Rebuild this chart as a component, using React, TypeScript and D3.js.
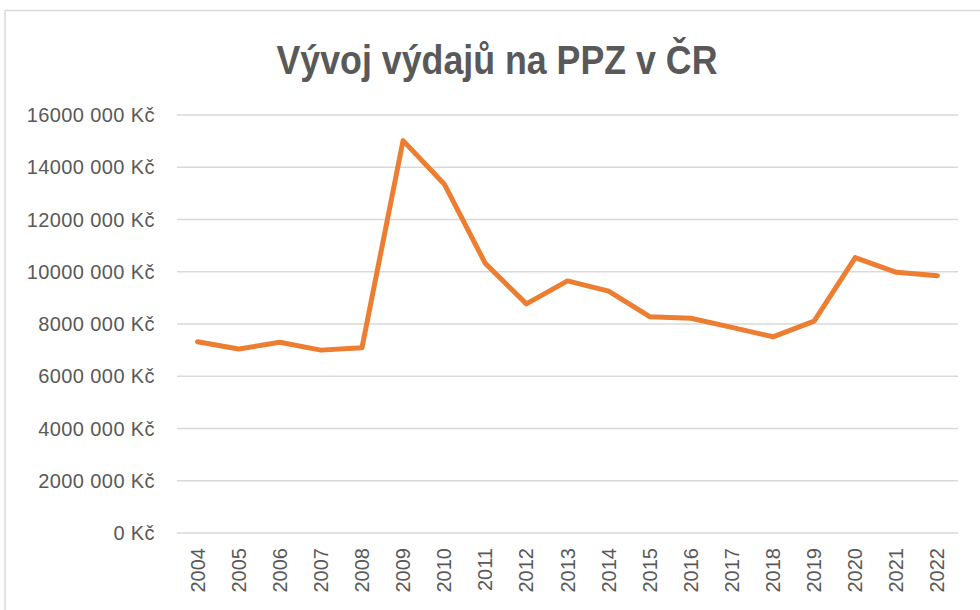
import React from 'react';
import * as d3 from 'd3';

const YEARS = ['2004', '2005', '2006', '2007', '2008', '2009', '2010', '2011', '2012', '2013',
  '2014', '2015', '2016', '2017', '2018', '2019', '2020', '2021', '2022'];
const SPENDING = [7320000, 7040000, 7300000, 7000000, 7090000, 15020000, 13360000, 10320000, 8770000,
  9650000, 9260000, 8280000, 8220000, 7870000, 7510000, 8110000, 10540000, 9980000, 9850000];
const Y_TICKS = [0, 2000000, 4000000, 6000000, 8000000, 10000000, 12000000, 14000000, 16000000];

const TITLE = 'Vývoj výdajů na PPZ v ČR';
const FONT = '"Liberation Sans", Arial, sans-serif';
const TEXT = '#595959';
const GRID = '#d9d9d9';
const ORANGE = '#ED7D31';

// Excel-ish format: "16000 000 Kč", "0 Kč"
const fmtKc = (v: number) => {
  if (v === 0) return '0 Kč';
  const th = Math.floor(v / 1000);
  const rest = String(v % 1000).padStart(3, '0');
  return `${th} ${rest} Kč`;
};

const App = () => {
  const width = 980, height = 610;
  const margin = { top: 115, right: 22, bottom: 77, left: 177 };
  const innerW = width - margin.left - margin.right;
  const innerH = height - margin.top - margin.bottom;

  const x = d3.scaleBand().domain(YEARS).range([0, innerW]).padding(0);
  const y = d3.scaleLinear().domain([0, 16000000]).range([innerH, 0]);

  const line = d3.line<number>()
    .x((_, i) => (x(YEARS[i]) as number) + x.bandwidth() / 2)
    .y(d => y(d));

  return (
    <svg width={width} height={height} style={{ position: 'absolute', left: 0, top: 0, background: '#fff' }}>
      <rect x={5} y={10.5} width={990} height={620} fill="#fff" stroke={GRID} strokeWidth={1.5} />
      <text x={497} y={74} textAnchor="middle" fill={TEXT} fontFamily={FONT} fontWeight="bold"
        fontSize={40} textLength={441} lengthAdjust="spacingAndGlyphs">{TITLE}</text>
      <g transform={`translate(${margin.left},${margin.top})`}>
        {Y_TICKS.map(t => (
          <g key={t} transform={`translate(0,${y(t)})`}>
            <line x2={innerW} stroke={GRID} strokeWidth={1.5} />
            <text x={-22} dy="0.35em" textAnchor="end" fill={TEXT} fontFamily={FONT} fontSize={20}
              letterSpacing={0.4}>{fmtKc(t)}</text>
          </g>
        ))}
        {YEARS.map(yr => (
          <text key={yr}
            transform={`translate(${(x(yr) as number) + x.bandwidth() / 2},${innerH + 15}) rotate(-90)`}
            dy="0.35em" textAnchor="end" fill={TEXT} fontFamily={FONT} fontSize={20}>{yr}</text>
        ))}
        <path d={line(SPENDING) || ''} fill="none" stroke={ORANGE} strokeWidth={5}
          strokeLinejoin="round" strokeLinecap="round" />
      </g>
    </svg>
  );
};

export default App;
